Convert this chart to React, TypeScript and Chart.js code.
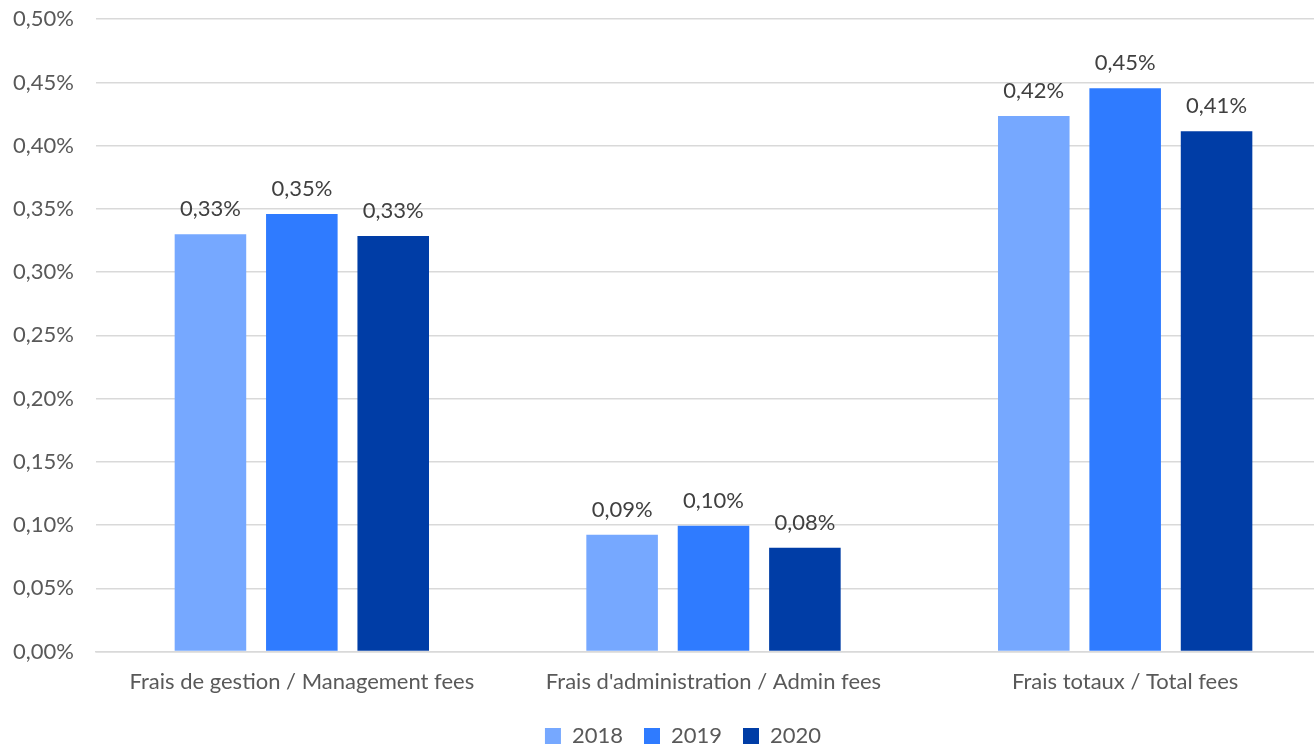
import React, { useEffect, useRef } from "react";
import { Chart, registerables } from "chart.js";

Chart.register(...registerables);

const categories = [
  "Frais de gestion / Management fees",
  "Frais d'administration / Admin fees",
  "Frais totaux / Total fees",
];
const seriesLabels = ["2018", "2019", "2020"];
const values2018 = [0.330, 0.0924, 0.4234];
const values2019 = [0.346, 0.0995, 0.4455];
const values2020 = [0.3286, 0.0821, 0.4115];
const colors = ["#76A8FF", "#2F7BFF", "#003DA6"];

const FONT = "Lato, 'Open Sans', sans-serif";
const TEXT = "#595959";
const FS = 22;

const fmt = (v: number) => v.toFixed(2).replace(".", ",") + "%";

const labelPlugin = {
  id: "barLabels",
  afterDatasetsDraw(chart: any) {
    const ctx = chart.ctx;
    ctx.save();
    ctx.font = `${FS}px ${FONT}`;
    ctx.fillStyle = "#404040";
    ctx.textAlign = "center";
    ctx.textBaseline = "alphabetic";
    chart.data.datasets.forEach((ds: any, i: number) => {
      const meta = chart.getDatasetMeta(i);
      meta.data.forEach((el: any, j: number) => {
        ctx.fillText(fmt(ds.data[j]), el.x, el.y - 18);
      });
    });
    ctx.restore();
  },
};

export default function App() {
  const ref = useRef<HTMLCanvasElement>(null);
  useEffect(() => {
    document.body.style.margin = "0";
    document.body.style.overflow = "hidden";
    const allValues = [values2018, values2019, values2020];
    const chart = new Chart(ref.current!, {
      type: "bar",
      data: {
        labels: categories,
        datasets: seriesLabels.map((l, i) => ({
          label: l,
          data: allValues[i],
          backgroundColor: colors[i],
          categoryPercentage: 0.666,
          barPercentage: 0.783,
        })),
      },
      options: {
        animation: false,
        responsive: true,
        maintainAspectRatio: false,
        layout: { padding: { left: 12, right: 0, top: 0, bottom: 0 } },
        scales: {
          x: {
            grid: { display: false },
            border: { color: "#D9D9D9", width: 1.5 },
            ticks: { color: TEXT, font: { family: FONT, size: FS }, padding: 9 },
          },
          y: {
            min: 0,
            max: 0.5,
            afterFit: (s: any) => {
              s.width = 84;
            },
            grid: { color: "#D9D9D9", lineWidth: 1.5, drawTicks: false },
            border: { display: false },
            ticks: {
              stepSize: 0.05,
              color: TEXT,
              padding: 22,
              font: { family: FONT, size: FS },
              callback: (v: any) => fmt(Number(v)),
            },
          },
          yRight: {
            position: "right",
            min: 0,
            max: 1,
            afterFit: (s: any) => {
              s.width = 23;
            },
            grid: { display: false },
            border: { display: false },
            ticks: { display: false },
          },
        },
        plugins: {
          legend: {
            position: "bottom",
            labels: {
              color: TEXT,
              font: { family: FONT, size: FS },
              boxWidth: 16,
              boxHeight: 16,
              padding: 21,
            },
          },
          tooltip: { enabled: false },
        },
      },
      plugins: [labelPlugin],
    });
    return () => chart.destroy();
  }, []);
  return (
    <div style={{ width: 1314, height: 745, overflow: "hidden", position: "relative" }}>
      <div style={{ width: 1354, height: 773, position: "absolute", left: 0, top: -16 }}>
        <canvas ref={ref} />
      </div>
    </div>
  );
}
